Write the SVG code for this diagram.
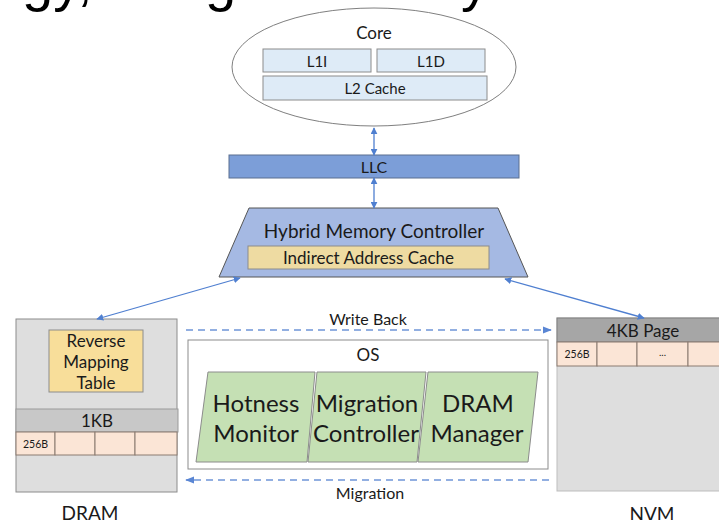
<svg xmlns="http://www.w3.org/2000/svg" width="719" height="520" viewBox="0 0 719 520">
<defs>
<style>
text{font-family:Lato,"Liberation Sans",sans-serif;fill:#1a1a1a;text-anchor:middle;dominant-baseline:central}
.title{font-family:"Liberation Sans",Arial,sans-serif;font-size:56px;fill:#000;text-anchor:start;dominant-baseline:alphabetic}
.box{stroke:#8c8c8c;stroke-width:1}
.cache{fill:#deebf7}
.cell{fill:#fbe5d6;stroke:#8a7a70;stroke-width:1}
.os{fill:#c5e0b4;stroke:#8c8c8c;stroke-width:1}
.conn{stroke:#4f7fd0;stroke-width:1.3;fill:none}
.dash{stroke:#6f95d8;stroke-width:1.3;fill:none;stroke-dasharray:7 5}
</style>
<marker id="ah" viewBox="0 0 10 10" refX="9" refY="5" markerWidth="7" markerHeight="7" orient="auto-start-reverse" markerUnits="userSpaceOnUse">
<path d="M0,0 L10,5 L0,10 z" fill="#4f7fd0"/>
</marker>
<marker id="ahd" viewBox="0 0 10 10" refX="9" refY="5" markerWidth="9" markerHeight="9" orient="auto-start-reverse" markerUnits="userSpaceOnUse">
<path d="M0,1 L10,5 L0,9 z" fill="#5a86d4"/>
</marker>
</defs>
<rect width="719" height="520" fill="#fff"/>

<g id="title-fragment">
<text class="title" x="22" y="0">gy,</text>
<text class="title" x="205" y="0">g</text>
<text class="title" x="461" y="0">y</text>
</g>

<g id="core">
<ellipse cx="374" cy="67" rx="142" ry="59" fill="#fff" stroke="#7f7f7f" stroke-width="1"/>
<text x="374" y="32" font-size="17">Core</text>
<rect class="box cache" x="263" y="49" width="108" height="23"/>
<text x="317" y="60.5" font-size="15">L1I</text>
<rect class="box cache" x="377" y="49" width="108" height="23"/>
<text x="431" y="60.5" font-size="15">L1D</text>
<rect class="box cache" x="263" y="76" width="224" height="24"/>
<text x="375" y="88" font-size="15">L2 Cache</text>
</g>

<g id="llc">
<rect x="229" y="155" width="290" height="23" fill="#7c9ed8" stroke="#5a6f90" stroke-width="1"/>
<text x="374" y="166.5" font-size="16">LLC</text>
</g>

<g id="controller">
<polygon points="249,208 498,208 528,277 219,277" fill="#a5b9e3" stroke="#555" stroke-width="1"/>
<text x="374" y="230" font-size="19">Hybrid Memory Controller</text>
<rect x="248" y="246" width="241" height="23" fill="#eedba2" stroke="#8c8c8c" stroke-width="1"/>
<text x="368.5" y="257.5" font-size="17">Indirect Address Cache</text>
</g>

<g id="dram">
<rect x="16" y="319" width="161" height="173" fill="#dedede" stroke="#8c8c8c" stroke-width="1"/>
<rect x="49" y="330" width="94" height="62" fill="#f8de9a" stroke="#8c8c8c" stroke-width="1"/>
<text x="96" y="340" font-size="17">Reverse</text>
<text x="96" y="361" font-size="17">Mapping</text>
<text x="96" y="382" font-size="17">Table</text>
<rect x="16" y="409" width="162" height="23" fill="#c8c8c8" stroke="#9a9a9a" stroke-width="1"/>
<text x="97" y="420.5" font-size="17">1KB</text>
<rect class="cell" x="16" y="432" width="39" height="23"/>
<rect class="cell" x="55" y="432" width="40" height="23"/>
<rect class="cell" x="95" y="432" width="40" height="23"/>
<rect class="cell" x="135" y="432" width="42" height="23"/>
<text x="35.5" y="443.5" font-size="10.5">256B</text>
<text x="90" y="512" font-size="19">DRAM</text>
</g>

<g id="os">
<rect x="188" y="340" width="360" height="129" fill="#fff" stroke="#8c8c8c" stroke-width="1"/>
<text x="368" y="354" font-size="17">OS</text>
<polygon class="os" points="208,372 315,372 307,462 196,462"/>
<text x="256" y="402" font-size="24">Hotness</text>
<text x="256" y="432" font-size="24">Monitor</text>
<polygon class="os" points="317,372 426,372 417,462 308,462"/>
<text x="367" y="402" font-size="24">Migration</text>
<text x="366" y="432" font-size="24">Controller</text>
<polygon class="os" points="428,372 538,372 528,462 418,462"/>
<text x="478" y="402" font-size="24">DRAM</text>
<text x="477" y="432" font-size="24">Manager</text>
</g>

<g id="nvm">
<rect x="557" y="318" width="170" height="173" fill="#dedede" stroke="#bdbdbd" stroke-width="1"/>
<rect x="557" y="318" width="170" height="24" fill="#a6a6a6" stroke="#7f7f7f" stroke-width="1"/>
<text x="643" y="330" font-size="17">4KB Page</text>
<rect class="cell" x="557" y="342" width="40" height="24"/>
<rect class="cell" x="597" y="342" width="40" height="24"/>
<rect class="cell" x="637" y="342" width="51" height="24"/>
<rect class="cell" x="688" y="342" width="40" height="24"/>
<text x="577" y="354" font-size="10.5">256B</text>
<text x="662.5" y="352" font-size="10" fill="#555">...</text>
<text x="652" y="513" font-size="19">NVM</text>
</g>

<g id="connectors">
<line class="conn" x1="374" y1="128" x2="374" y2="155" marker-start="url(#ah)" marker-end="url(#ah)"/>
<line class="conn" x1="374" y1="178" x2="374" y2="208" marker-start="url(#ah)" marker-end="url(#ah)"/>
<line class="conn" x1="240" y1="278" x2="97" y2="319" marker-start="url(#ah)" marker-end="url(#ah)"/>
<line class="conn" x1="505" y1="279" x2="644" y2="318" marker-start="url(#ah)" marker-end="url(#ah)"/>
<line class="dash" x1="186" y1="330" x2="551" y2="330" marker-end="url(#ahd)"/>
<text x="368" y="318" font-size="16">Write Back</text>
<line class="dash" x1="549" y1="480" x2="186" y2="480" marker-end="url(#ahd)"/>
<text x="370" y="492" font-size="16">Migration</text>
</g>
</svg>
